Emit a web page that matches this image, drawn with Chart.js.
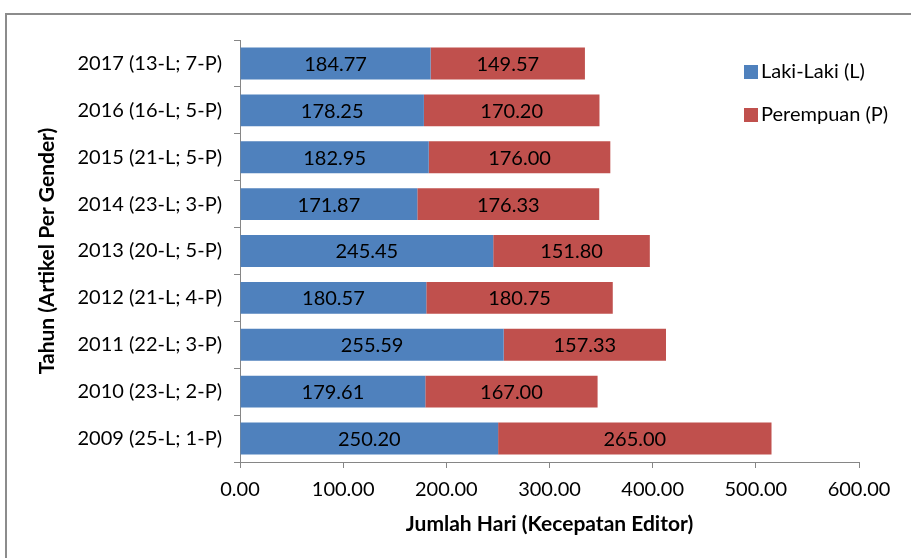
<!DOCTYPE html>
<html>
<head>
<meta charset="utf-8">
<script src="https://cdn.jsdelivr.net/npm/chart.js@4/dist/chart.umd.min.js"></script>
<style>
  html, body { margin: 0; padding: 0; background: #ffffff; }
  #wrap { width: 911px; height: 558px; }
</style>
</head>
<body>
<div id="wrap"><canvas id="c" width="911" height="558"></canvas></div>
<script>
// Tahun dan jumlah artikel per gender (dari atas ke bawah)
const categories = [
  '2017 (13-L; 7-P)',
  '2016 (16-L; 5-P)',
  '2015 (21-L; 5-P)',
  '2014 (23-L; 3-P)',
  '2013 (20-L; 5-P)',
  '2012 (21-L; 4-P)',
  '2011 (22-L; 3-P)',
  '2010 (23-L; 2-P)',
  '2009 (25-L; 1-P)'
];
const lakiLaki  = [184.77, 178.25, 182.95, 171.87, 245.45, 180.57, 255.59, 179.61, 250.20];
const perempuan = [149.57, 170.20, 176.00, 176.33, 151.80, 180.75, 157.33, 167.00, 265.00];
const seriesNames = ['Laki-Laki (L)', 'Perempuan (P)'];
const xTicks = [0, 100, 200, 300, 400, 500, 600];

const FONT = 'Lato, "Open Sans", sans-serif';
const AXIS_GREY = '#868686';

// Frame around the whole figure
const framePlugin = {
  id: 'frame',
  beforeDraw(chart) {
    const ctx = chart.ctx;
    ctx.save();
    ctx.fillStyle = '#ffffff';
    ctx.fillRect(0, 0, chart.width, chart.height);
    ctx.strokeStyle = '#8c8c8c';
    ctx.lineWidth = 2;
    ctx.strokeRect(6, 14, chart.width + 50, chart.height + 50);
    ctx.restore();
  }
};

// Value written in the middle of every bar segment
const valueLabels = {
  id: 'valueLabels',
  afterDatasetsDraw(chart) {
    const ctx = chart.ctx;
    ctx.save();
    ctx.font = '20px ' + FONT;
    ctx.fillStyle = '#000000';
    ctx.textAlign = 'center';
    ctx.textBaseline = 'middle';
    chart.data.datasets.forEach((ds, i) => {
      chart.getDatasetMeta(i).data.forEach((el, j) => {
        const cx = (el.x + el.base) / 2;
        ctx.fillText(ds.data[j].toFixed(2), cx, el.y + 1);
      });
    });
    ctx.restore();
  }
};

// Legend placed inside the plot on the right
const sideLegend = {
  id: 'sideLegend',
  afterDraw(chart) {
    const ctx = chart.ctx;
    ctx.save();
    ctx.font = '20px ' + FONT;
    ctx.textBaseline = 'middle';
    ctx.textAlign = 'left';
    chart.data.datasets.forEach((ds, i) => {
      const y = 72 + i * 43;
      ctx.fillStyle = ds.backgroundColor;
      ctx.fillRect(744, y - 7, 14, 14);
      ctx.fillStyle = '#000000';
      ctx.fillText(ds.label, 761, y);
    });
    ctx.restore();
  }
};

new Chart(document.getElementById('c'), {
  type: 'bar',
  data: {
    labels: categories,
    datasets: [
      { label: seriesNames[0], data: lakiLaki,  backgroundColor: '#4F81BD', borderWidth: 0 },
      { label: seriesNames[1], data: perempuan, backgroundColor: '#C0504D', borderWidth: 0 }
    ]
  },
  options: {
    indexAxis: 'y',
    responsive: false,
    animation: false,
    devicePixelRatio: 1,
    layout: { padding: { top: 40, right: 52, bottom: 0, left: 0 } },
    datasets: { bar: { categoryPercentage: 1.0, barPercentage: 0.68 } },
    plugins: {
      legend: { display: false },
      tooltip: { enabled: false }
    },
    scales: {
      x: {
        stacked: true,
        min: 0,
        max: 600,
        afterFit(s) { s.height = 96; },
        afterBuildTicks(s) { s.ticks = xTicks.map(v => ({ value: v })); },
        ticks: {
          color: '#000000',
          font: { family: FONT, size: 20 },
          padding: 10,
          maxRotation: 0,
          autoSkip: false,
          callback: v => Number(v).toFixed(2)
        },
        grid: { drawOnChartArea: false, drawTicks: true, tickLength: 6, color: AXIS_GREY },
        border: { display: true, color: AXIS_GREY, width: 1 },
        title: {
          display: true,
          text: 'Jumlah Hari (Kecepatan Editor)',
          color: '#000000',
          font: { family: FONT, size: 21, weight: 'bold' },
          padding: { top: 0, bottom: 21 }
        }
      },
      y: {
        stacked: true,
        afterFit(s) { s.width = 240; },
        ticks: {
          color: '#000000',
          font: { family: FONT, size: 20 },
          padding: 12
        },
        grid: { drawOnChartArea: false, drawTicks: true, tickLength: 6, color: AXIS_GREY, offset: true },
        border: { display: true, color: AXIS_GREY, width: 1 },
        title: {
          display: true,
          text: 'Tahun (Artikel Per Gender)',
          color: '#000000',
          font: { family: FONT, size: 21, weight: 'bold' },
          padding: { top: 35, bottom: 0 }
        }
      }
    }
  },
  plugins: [framePlugin, valueLabels, sideLegend]
});
</script>
</body>
</html>
